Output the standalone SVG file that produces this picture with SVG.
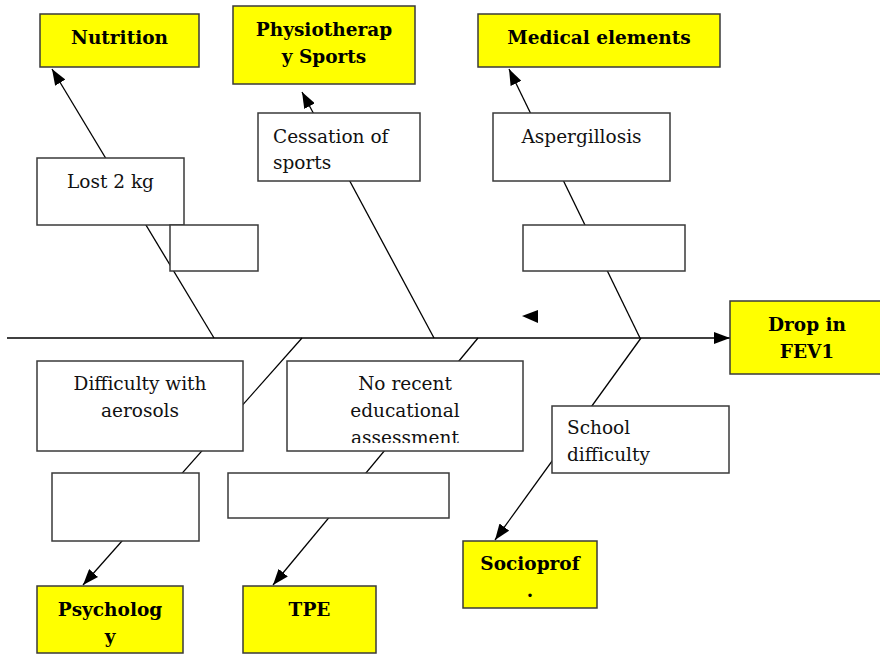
<svg xmlns="http://www.w3.org/2000/svg" width="880" height="656" viewBox="0 0 880 656">
<style>
.box{fill:#fff;stroke:#3a3a3a;stroke-width:1.5}
.ybox{fill:#ffff00;stroke:#3a3a3a;stroke-width:1.5}
.t{font-family:"DejaVu Serif","Liberation Serif",serif;font-size:18.5px;fill:#111}
.b{font-family:"DejaVu Serif","Liberation Serif",serif;font-size:18.5px;font-weight:bold;fill:#000}
.c{text-anchor:middle}
.ln{stroke:#000;stroke-width:1.3;fill:none}
</style>
<defs>
<marker id="ah" viewBox="0 0 16 12" refX="16" refY="6" markerWidth="16" markerHeight="12" markerUnits="userSpaceOnUse" orient="auto">
<path d="M0,0 L16,6 L0,12 Z" fill="#000"/>
</marker>
<clipPath id="clipNR"><rect x="287" y="361" width="236" height="82"/></clipPath>
</defs>
<g id="connectors">
<line class="ln" x1="7" y1="338" x2="730" y2="338" marker-end="url(#ah)"/>
<line class="ln" x1="214" y1="338" x2="52" y2="69" marker-end="url(#ah)"/>
<line class="ln" x1="434" y1="338" x2="302" y2="92" marker-end="url(#ah)"/>
<line class="ln" x1="640" y1="338" x2="509" y2="69" marker-end="url(#ah)"/>
<line class="ln" x1="302" y1="338" x2="83" y2="585" marker-end="url(#ah)"/>
<line class="ln" x1="478" y1="338" x2="273" y2="585" marker-end="url(#ah)"/>
<line class="ln" x1="641" y1="338" x2="495" y2="540" marker-end="url(#ah)"/>
<path d="M522,316 L538,310 L538,323 Z" fill="#000"/>
</g>
<g id="nutrition"><rect class="ybox" x="40" y="14" width="159" height="53"/><text class="b c" x="119.5" y="44">Nutrition</text></g>
<g id="physio"><rect class="ybox" x="233" y="6" width="182" height="78"/><text class="b c" x="324" y="36">Physiotherap</text><text class="b c" x="324" y="63">y Sports</text></g>
<g id="medical"><rect class="ybox" x="478" y="14" width="242" height="53"/><text class="b c" x="599" y="44">Medical elements</text></g>
<g id="drop"><rect class="ybox" x="730" y="301" width="152" height="73"/><text class="b c" x="807" y="331">Drop in</text><text class="b c" x="807" y="358">FEV1</text></g>
<g id="lost"><rect class="box" x="37" y="158" width="147" height="67"/><text class="t c" x="110.5" y="188">Lost 2 kg</text></g>
<g id="empty1"><rect class="box" x="170" y="225" width="88" height="46"/></g>
<g id="cessation"><rect class="box" x="258" y="113" width="162" height="68"/><text class="t" x="273" y="143">Cessation of</text><text class="t" x="273" y="169">sports</text></g>
<g id="asper"><rect class="box" x="493" y="113" width="177" height="68"/><text class="t c" x="581.5" y="143">Aspergillosis</text></g>
<g id="empty2"><rect class="box" x="523" y="225" width="162" height="46"/></g>
<g id="aerosols"><rect class="box" x="37" y="361" width="206" height="90"/><text class="t c" x="140" y="390">Difficulty with</text><text class="t c" x="140" y="417">aerosols</text></g>
<g id="norecent"><rect class="box" x="287" y="361" width="236" height="90"/><g clip-path="url(#clipNR)"><text class="t c" x="405" y="390">No recent</text><text class="t c" x="405" y="417">educational</text><text class="t c" x="405" y="444">assessment</text></g></g>
<g id="empty3"><rect class="box" x="52" y="473" width="147" height="68"/></g>
<g id="empty4"><rect class="box" x="228" y="473" width="221" height="45"/></g>
<g id="school"><rect class="box" x="552" y="406" width="177" height="67"/><text class="t" x="567" y="434">School</text><text class="t" x="567" y="461">difficulty</text></g>
<g id="psych"><rect class="ybox" x="37" y="586" width="146" height="67"/><text class="b c" x="110" y="616">Psycholog</text><text class="b c" x="110" y="643">y</text></g>
<g id="tpe"><rect class="ybox" x="243" y="586" width="133" height="67"/><text class="b c" x="309.5" y="616">TPE</text></g>
<g id="socio"><rect class="ybox" x="463" y="541" width="134" height="67"/><text class="b c" x="530" y="570">Socioprof</text><text class="b c" x="530" y="597">.</text></g>
</svg>
